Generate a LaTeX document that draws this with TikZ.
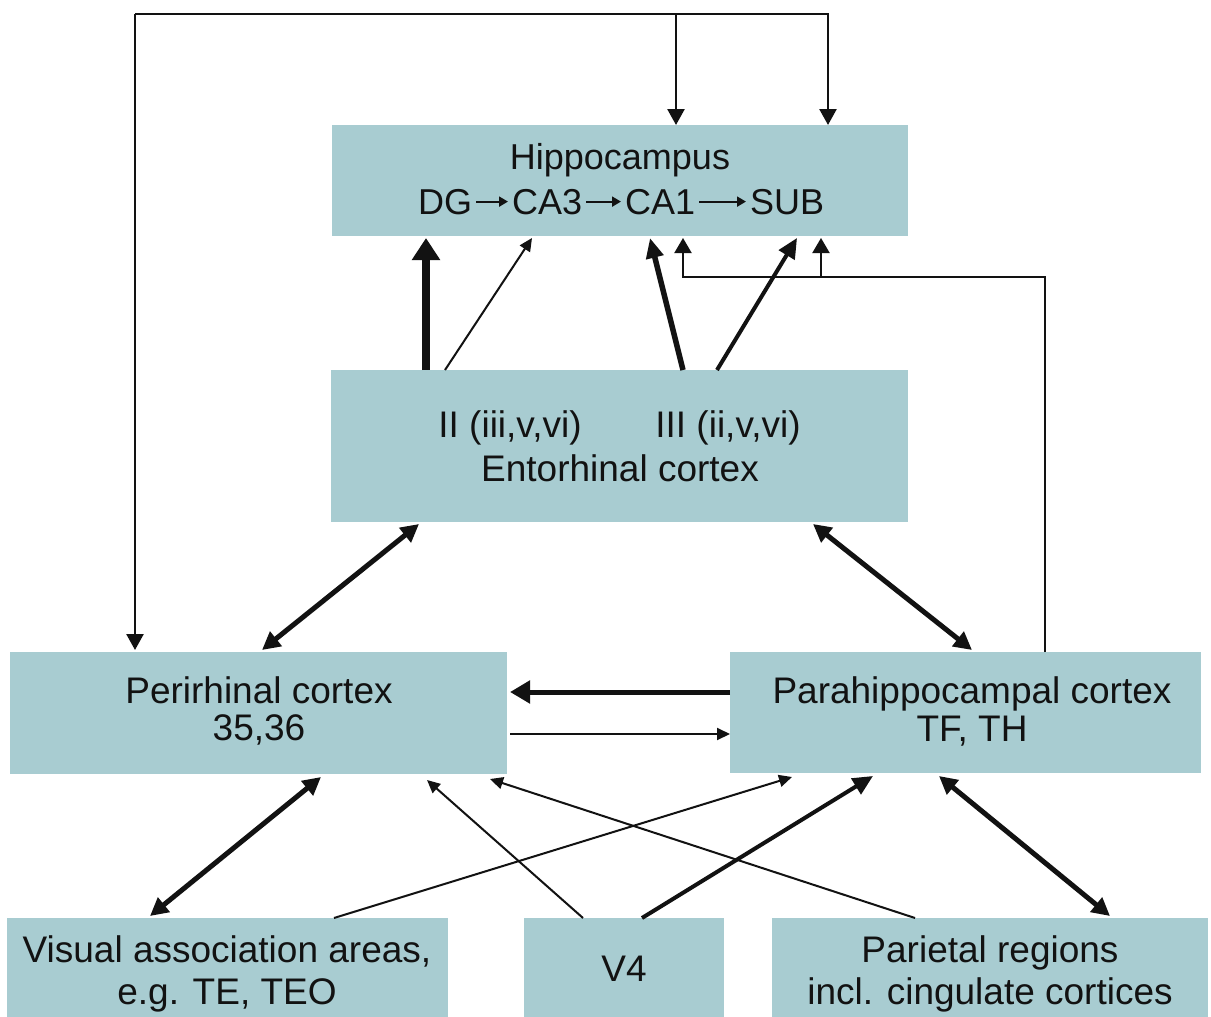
\documentclass[tikz,border=0pt]{standalone}
\usepackage{fontspec}
\setmainfont{Liberation Sans}
\usetikzlibrary{arrows.meta}
\definecolor{boxc}{RGB}{168,204,209}
\definecolor{ink}{RGB}{18,18,18}
\begin{document}
\begin{tikzpicture}[x=1pt,y=-1pt,
  box/.style={fill=boxc,draw=none,anchor=north west,inner sep=0pt,outer sep=0pt},
  txt/.style={font=\fontsize{37}{40}\selectfont,text=ink,inner sep=0pt,anchor=base},
  htxt/.style={font=\fontsize{36}{40}\selectfont,text=ink,inner sep=0pt,anchor=base},
  wtxt/.style={htxt,anchor=base west,inner xsep=4pt},
  textarr/.style={draw=ink,line width=2pt,-{Triangle[length=9pt,width=10pt]}},
  thinarr/.style={draw=ink,line width=2pt,-{Triangle[length=13pt,width=12pt]}},
  medarr/.style={draw=ink,line width=4pt,-{Triangle[length=20pt,width=18pt]}},
  thickarr/.style={draw=ink,line width=5.5pt,-{Triangle[length=20pt,width=17pt]}},
  vthickarr/.style={draw=ink,line width=8pt,-{Triangle[length=22pt,width=27pt]}},
  duoarr/.style={draw=ink,line width=5pt,{Triangle[length=18pt,width=18pt]}-{Triangle[length=18pt,width=18pt]}},
  horarr/.style={draw=ink,line width=5pt,-{Triangle[length=20pt,width=22pt]}},
  looparr/.style={draw=ink,line width=2.5pt,-{Triangle[length=16pt,width=17pt]}},
  brarr/.style={draw=ink,line width=2pt,-{Triangle[length=15pt,width=17pt]}}
]
\fill[white] (0,0) rectangle (1211,1017);
\useasboundingbox (0,0) rectangle (1211,1017);

% boxes
\node[box,minimum width=576pt,minimum height=111pt] (hip) at (332,125) {};
\node[box,minimum width=577pt,minimum height=152pt] (ent) at (331,370) {};
\node[box,minimum width=497pt,minimum height=122pt] (peri) at (10,652) {};
\node[box,minimum width=471pt,minimum height=121pt] (para) at (730,652) {};
\node[box,minimum width=441pt,minimum height=100pt] (vis) at (7,918) {};
\node[box,minimum width=200pt,minimum height=100pt] (v4) at (524,918) {};
\node[box,minimum width=436pt,minimum height=100pt] (par) at (772,918) {};

% texts
\node[htxt] (hipt) at (620,169) {Hippocampus};
\node[wtxt] (dg) at (414,214) {DG};
\node[wtxt] (ca3) at (508,214) {CA3};
\node[wtxt] (ca1) at (621,214) {CA1};
\node[wtxt] (sub) at (746,214) {SUB};
\draw[textarr] (dg.east) -- (ca3.west);
\draw[textarr] (ca3.east) -- (ca1.west);
\draw[textarr] (ca1.east) -- (sub.west);

\node[txt] (ent2) at (510,437) {II (iii,v,vi)};
\node[txt] (ent3) at (728,437) {III (ii,v,vi)};
\node[txt] (entt) at (620,481) {Entorhinal cortex};

\node[txt] (perit) at (259,703) {Perirhinal cortex};
\node[txt] (perin) at (259,740) {35,36};
\node[txt] (parat) at (972,703) {Parahippocampal cortex};
\node[txt] (paran) at (972,741) {TF, TH};

\node[txt] (vist) at (227,962) {Visual association areas,};
\node[txt] (visn) at (227,1004) {e.g. TE, TEO};
\node[txt] (v4t) at (624,981) {V4};
\node[txt] (part) at (990,962) {Parietal regions};
\node[txt] (parn) at (990,1004) {incl. cingulate cortices};

% top loop
\coordinate (topL) at (135,14);
\coordinate (topM) at (676,14);
\coordinate (topR) at (828,14);
\draw[looparr] (topL) -- (topR) -- (topR |- hip.north);
\draw[looparr] (topM) -- (topM |- hip.north);
\draw[looparr] (topL) -- ([yshift=2pt]topL |- peri.north);

% entorhinal -> hippocampus
\draw[vthickarr] ([xshift=95pt]ent.north west) -- ([xshift=94pt,yshift=-2pt]hip.south west);
\draw[thinarr] ([xshift=114pt]ent.north west) -- ([xshift=200pt,yshift=-2pt]hip.south west);
\draw[thickarr] ([xshift=352pt]ent.north west) -- ([xshift=318pt,yshift=-2pt]hip.south west);
\draw[medarr] ([xshift=386pt]ent.north west) -- ([xshift=465pt,yshift=-2pt]hip.south west);

% parahippocampal -> hippocampus bracket
\draw[brarr] ([xshift=315pt]para.north west) |- ([xshift=351pt,yshift=-41pt]hip.south west) -- ([xshift=351pt,yshift=-2pt]hip.south west);
\draw[brarr] ([xshift=489pt,yshift=-41pt]hip.south west) -- ([xshift=489pt,yshift=-2pt]hip.south west);

% entorhinal <-> perirhinal / parahippocampal
\draw[duoarr] ([xshift=88pt,yshift=-2pt]ent.south west) -- ([xshift=252pt,yshift=2pt]peri.north west);
\draw[duoarr] ([xshift=482pt,yshift=-2pt]ent.south west) -- ([xshift=242pt,yshift=2pt]para.north west);

% perirhinal <-> parahippocampal
\draw[horarr] ([yshift=-40pt]para.north west) -- ([yshift=-40pt,xshift=3pt]peri.north east);
\draw[thinarr] ([yshift=-82pt,xshift=3pt]peri.north east) -- ([yshift=-82pt]para.north west);

% bottom connections
\draw[duoarr] ([xshift=311pt,yshift=-3pt]peri.south west) -- ([xshift=143pt,yshift=2pt]vis.north west);
\draw[thinarr] ([xshift=59pt]v4.north west) -- ([xshift=417pt,yshift=-6pt]peri.south west);
\draw[thinarr] ([xshift=143pt]par.north west) -- ([xshift=480pt,yshift=-5pt]peri.south west);
\draw[thinarr] ([xshift=327pt]vis.north west) -- ([xshift=62pt,yshift=-4pt]para.south west);
\draw[medarr] ([xshift=118pt]v4.north west) -- ([xshift=143pt,yshift=-3pt]para.south west);
\draw[duoarr] ([xshift=209pt,yshift=-3pt]para.south west) -- ([xshift=338pt,yshift=2pt]par.north west);
\end{tikzpicture}
\end{document}
